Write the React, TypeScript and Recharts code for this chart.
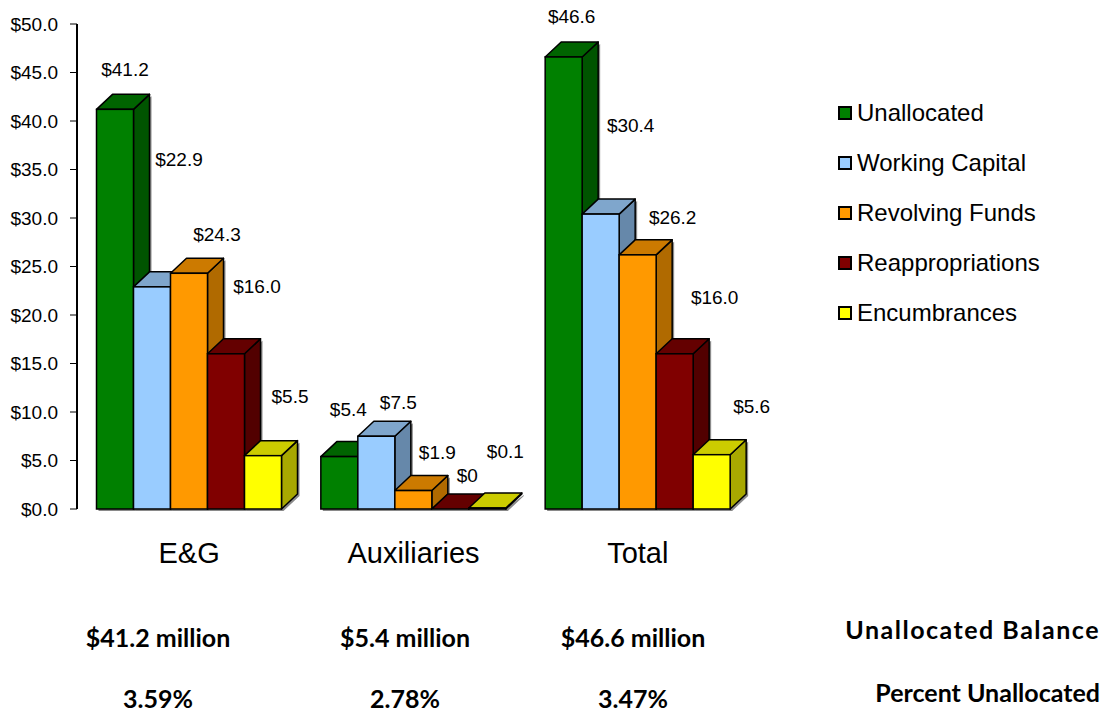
import React from "react";
import { BarChart, Bar, XAxis, YAxis, LabelList } from "recharts";

const categories = ["E&G", "Auxiliaries", "Total"];
const unallocated = [41.2, 5.4, 46.6];
const workingCapital = [22.9, 7.5, 30.4];
const revolvingFunds = [24.3, 1.9, 26.2];
const reappropriations = [16.0, 0, 16.0];
const encumbrances = [5.5, 0.1, 5.6];
const yTicks = [0, 5, 10, 15, 20, 25, 30, 35, 40, 45, 50];
const balances = ["$41.2 million", "$5.4 million", "$46.6 million"];
const percents = ["3.59%", "2.78%", "3.47%"];

const series = [
  { key: "unallocated", name: "Unallocated", values: unallocated, front: "#008000", top: "#006400", side: "#005400" },
  { key: "workingCapital", name: "Working Capital", values: workingCapital, front: "#99ccff", top: "#7fa6cc", side: "#6688aa" },
  { key: "revolvingFunds", name: "Revolving Funds", values: revolvingFunds, front: "#ff9900", top: "#cc7a00", side: "#b06a00" },
  { key: "reappropriations", name: "Reappropriations", values: reappropriations, front: "#800000", top: "#640000", side: "#520000" },
  { key: "encumbrances", name: "Encumbrances", values: encumbrances, front: "#ffff00", top: "#cccc00", side: "#a8a800" },
];

const data = categories.map((name, i) => {
  const row: Record<string, any> = { name };
  series.forEach((s) => (row[s.key] = s.values[i]));
  return row;
});

// value labels sit beside/above each box: [dx from bar centre, lift above bar top]
const labelNudge = [
  [[10, 40], [9, 47], [8, 40]],
  [[27, 127], [22, 34], [30, 89]],
  [[28, 39], [24, 38], [35, 37]],
  [[31, 67], [17, 34], [40, 56]],
  [[27, 59], [18, 57], [40, 48]],
];

const DX = 16;
const DY = 15;
const FONT = "'Liberation Sans', Arial, sans-serif";

function Box3D(props: any) {
  const { x, y, width: w, height: h, s } = props;
  const pts = (arr: number[][]) => arr.map((p) => p.join(",")).join(" ");
  return (
    <g>
      <polygon
        points={pts([[x + 2, y + h + 2], [x + w + 2, y + h + 2], [x + w + DX + 2, y + h - DY + 2], [x + w + DX + 2, y - DY + 2], [x + w, y], [x, y]])}
        fill="#8a8a8a"
      />
      <polygon
        points={pts([[x + w, y], [x + w + DX, y - DY], [x + w + DX, y + h - DY], [x + w, y + h]])}
        fill={s.side}
        stroke="#000"
        strokeWidth={1.5}
        strokeLinejoin="round"
      />
      <polygon
        points={pts([[x, y], [x + DX, y - DY], [x + w + DX, y - DY], [x + w, y]])}
        fill={s.top}
        stroke="#000"
        strokeWidth={1.5}
        strokeLinejoin="round"
      />
      <rect x={x} y={y} width={w} height={h} fill={s.front} stroke="#000" strokeWidth={1.5} />
    </g>
  );
}

function valueLabel(p: any, si: number) {
  const { x, y, width, value, index } = p;
  const [dx, lift] = labelNudge[si][index];
  const text = value === 0 ? "$0" : `$${Number(value).toFixed(1)}`;
  return (
    <text
      x={x + width / 2 + dx}
      y={y - lift}
      textAnchor="middle"
      dominantBaseline="central"
      fontFamily={FONT}
      fontSize={19}
      fill="#000"
    >
      {text}
    </text>
  );
}

function CategoryTick(props: any) {
  const { x, y, payload } = props;
  return (
    <text x={x} y={y + 36} textAnchor="middle" dominantBaseline="central" fontFamily={FONT} fontSize={29} fill="#000">
      {payload.value}
    </text>
  );
}

function LegendList() {
  return (
    <div style={{ position: "absolute", left: 838, top: 88, fontFamily: FONT, fontSize: 24, color: "#000" }}>
      {series.map((s) => (
        <div key={s.key} style={{ display: "flex", alignItems: "center", height: 50 }}>
          <span
            style={{
              width: 10,
              height: 10,
              border: "2px solid #000",
              background: s.front,
              marginRight: 5,
              display: "inline-block",
            }}
          />
          <span>{s.name}</span>
        </div>
      ))}
    </div>
  );
}

const bottomText: React.CSSProperties = {
  position: "absolute",
  fontFamily: "Lato, 'Open Sans', sans-serif",
  fontWeight: 700,
  fontSize: 25,
  lineHeight: 1,
  color: "#000",
  transform: "translate(-50%, -50%)",
  whiteSpace: "nowrap",
};

const columnCentres = [158, 405, 633];

export default function App() {
  return (
    <div style={{ position: "absolute", left: 0, top: 0, width: 1104, height: 713, background: "#fff", overflow: "hidden" }}>
      <BarChart
        width={1104}
        height={713}
        data={data}
        margin={{ top: 24, right: 354, bottom: 144, left: 0 }}
        barGap={0}
        barCategoryGap={19.5}
      >
        <YAxis
          width={77}
          domain={[0, 50]}
          ticks={yTicks}
          interval={0}
          tickFormatter={(v: number) => `$${v.toFixed(1)}`}
          axisLine={{ stroke: "#000", strokeWidth: 2 }}
          tickLine={{ stroke: "#000" }}
          tickSize={7}
          tickMargin={12}
          tick={{ fill: "#000", fontSize: 19, fontFamily: FONT }}
        />
        <XAxis dataKey="name" axisLine={false} tickLine={false} height={60} tick={<CategoryTick />} interval={0} />
        {series.map((s, si) => (
          <Bar
            key={s.key}
            dataKey={s.key}
            name={s.name}
            fill={s.front}
            isAnimationActive={false}
            shape={(p: any) => <Box3D {...p} s={s} />}
          >
            <LabelList dataKey={s.key} content={(p: any) => valueLabel(p, si)} />
          </Bar>
        ))}
      </BarChart>

      <LegendList />

      {balances.map((b, i) => (
        <div key={b} style={{ ...bottomText, left: columnCentres[i], top: 637 }}>
          {b}
        </div>
      ))}
      {percents.map((p, i) => (
        <div key={p} style={{ ...bottomText, left: columnCentres[i], top: 698 }}>
          {p}
        </div>
      ))}
      <div style={{ ...bottomText, transform: "translate(0, -50%)", right: 4, top: 629, letterSpacing: 1.5 }}>
        Unallocated Balance
      </div>
      <div style={{ ...bottomText, transform: "translate(0, -50%)", right: 4, top: 692 }}>Percent Unallocated</div>
    </div>
  );
}
